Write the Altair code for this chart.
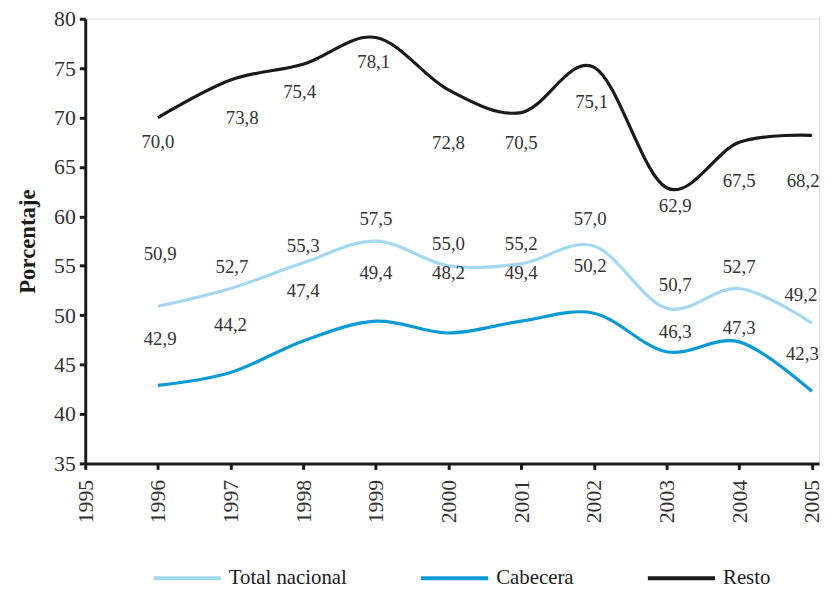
import altair as alt
import pandas as pd

years = [1996, 1997, 1998, 1999, 2000, 2001, 2002, 2003, 2004, 2005]
series_names = ["Total nacional", "Cabecera", "Resto"]
total_nacional = [50.9, 52.7, 55.3, 57.5, 55.0, 55.2, 57.0, 50.7, 52.7, 49.2]
cabecera = [42.9, 44.2, 47.4, 49.4, 48.2, 49.4, 50.2, 46.3, 47.3, 42.3]
resto = [70.0, 73.8, 75.4, 78.1, 72.8, 70.5, 75.1, 62.9, 67.5, 68.2]
colors = ["#a3d8f2", "#0a9ad6", "#1a1a1a"]
x_ticks = list(range(1995, 2006))
y_ticks = list(range(35, 81, 5))

# label offsets relative to the point: vertical (data units), horizontal (years)
off_total = [5.3, 2.2, 1.7, 2.2, 2.2, 2.0, 2.7, 2.3, 2.2, 2.8]
off_cab = [4.7, 4.8, 5.0, 4.9, 6.1, 4.9, 4.8, 2.0, 1.4, 3.8]
off_resto = [-2.5, -3.8, -2.8, -2.5, -5.4, -3.1, -3.5, -1.9, -3.9, -4.6]
xoff_total = [0.03, 0.02, 0.0, 0.0, 0.0, 0.0, -0.05, 0.12, 0.0, -0.15]
xoff_cab = [0.03, 0.0, 0.0, 0.0, 0.0, 0.0, -0.05, 0.12, 0.0, -0.13]
xoff_resto = [0.0, 0.16, -0.05, -0.03, 0.0, 0.0, -0.03, 0.12, 0.0, -0.12]

rows = []
for name, vals, offs, xoffs in zip(series_names, [total_nacional, cabecera, resto],
                                   [off_total, off_cab, off_resto],
                                   [xoff_total, xoff_cab, xoff_resto]):
    for y, v, o, xo in zip(years, vals, offs, xoffs):
        rows.append({"year": y, "serie": name, "value": v,
                     "label": f"{v:.1f}".replace(".", ","), "label_y": v + o,
                     "label_x": y + xo})
df = pd.DataFrame(rows)

FONT = "'Liberation Serif', 'DejaVu Serif', serif"
x_scale = alt.Scale(domain=[1995, 2005.1], nice=False)
y_scale = alt.Scale(domain=[35, 80], nice=False)

x_enc = alt.X("year:Q", scale=x_scale,
              axis=alt.Axis(values=x_ticks, format="d", title=None, labelAngle=270,
                            labelFontSize=22, labelPadding=10, tickSize=6, tickWidth=3,
                            domainWidth=3, domainColor="#1a1a1a", tickColor="#1a1a1a",
                            labelColor="#333333", grid=False, labelFont=FONT))

lines = alt.Chart(df).mark_line(interpolate="cardinal", strokeWidth=3.2).encode(
    x=x_enc,
    y=alt.Y("value:Q", scale=y_scale,
            axis=alt.Axis(values=y_ticks, title="Porcentaje", titleFont=FONT,
                          titleFontSize=23, titleFontWeight="bold", titleColor="#1a1a1a",
                          titlePadding=14, labelFontSize=22, labelFont=FONT,
                          labelColor="#333333", tickSize=6, tickWidth=3, domainWidth=3,
                          domainColor="#1a1a1a", tickColor="#1a1a1a", grid=False,
                          labelPadding=4)),
    color=alt.Color("serie:N", sort=series_names,
                    scale=alt.Scale(domain=series_names, range=colors),
                    legend=alt.Legend(title=None, orient="none", direction="horizontal",
                                      legendX=67, legendY=529, symbolType="stroke",
                                      symbolSize=4600, symbolStrokeWidth=4,
                                      labelFont=FONT, labelFontSize=21,
                                      labelColor="#1a1a1a", columnPadding=66,
                                      labelOffset=6)),
    detail="serie:N",
)

labels = alt.Chart(df).mark_text(font=FONT, fontSize=19, color="#333333",
                                 baseline="middle", align="center").encode(
    x=alt.X("label_x:Q", scale=x_scale),
    y=alt.Y("label_y:Q", scale=y_scale),
    text="label:N",
)

chart = alt.layer(lines, labels).properties(
    width=741, height=449,
    autosize=alt.AutoSizeParams(type="none"),
    padding={"left": 78, "top": 8, "right": 9, "bottom": 128},
).configure_view(stroke="#1a1a1a", strokeWidth=2).configure(background="white")

chart.save("out.html", embed_options={"renderer": "svg", "actions": False})
